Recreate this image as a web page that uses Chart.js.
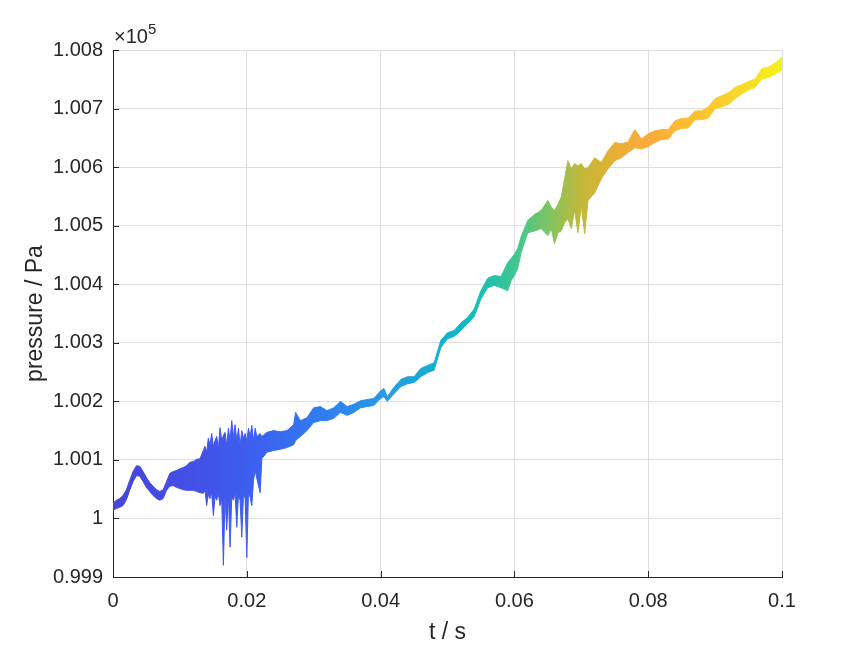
<!DOCTYPE html>
<html lang="en">
<head>
<meta charset="UTF-8">
<title>pressure / Pa vs t / s</title>
<style>
  html, body { margin: 0; padding: 0; background: #fff; }
  #wrap { width: 865px; height: 649px; }
</style>
</head>
<body>
<div id="wrap"><canvas id="myChart" width="865" height="649"></canvas></div>
<script src="https://cdn.jsdelivr.net/npm/chart.js"></script>
<script>
// time samples (s)
const times = [
  0, 0.0005, 0.001, 0.0015, 0.002, 0.0025, 0.003, 0.0035, 0.004, 0.0045,
  0.005, 0.0055, 0.006, 0.0065, 0.007, 0.0075, 0.008, 0.0085, 0.009, 0.0095,
  0.01, 0.0105, 0.011, 0.0115, 0.012, 0.0125, 0.013,
  0.0135, 0.01375, 0.014, 0.01425, 0.0145, 0.01475, 0.015, 0.01525, 0.0155, 0.01575,
  0.016, 0.01625, 0.0165, 0.01675, 0.017, 0.01725, 0.0175, 0.01775, 0.018, 0.01825,
  0.0185, 0.01875, 0.019, 0.01925, 0.0195, 0.01975, 0.02, 0.02025, 0.0205, 0.02075,
  0.021, 0.02125, 0.0215, 0.022, 0.02225, 0.023,
  0.024, 0.025, 0.026, 0.027, 0.0273, 0.028, 0.029,
  0.030, 0.031, 0.032, 0.033, 0.034, 0.035, 0.036, 0.037, 0.038, 0.039,
  0.040, 0.0405, 0.041, 0.042, 0.043, 0.044, 0.045, 0.046, 0.047, 0.048,
  0.049, 0.050, 0.051, 0.052, 0.053, 0.054, 0.055, 0.056, 0.057, 0.058,
  0.059, 0.0595, 0.060, 0.0605, 0.061, 0.062, 0.063, 0.064,
  0.065, 0.0655, 0.066, 0.0665, 0.067, 0.0675, 0.068, 0.0685, 0.069, 0.0695,
  0.070, 0.0705, 0.071, 0.072, 0.073, 0.074, 0.075, 0.076, 0.077, 0.078,
  0.079, 0.080, 0.081, 0.082, 0.083, 0.084, 0.085, 0.086, 0.087, 0.088,
  0.089, 0.090, 0.091, 0.092, 0.093, 0.094, 0.095, 0.096, 0.097, 0.098, 0.099, 0.100
];

// upper edge of the pressure band (Pa)
const upperPa = [
  100026, 100031, 100034, 100039, 100049, 100065, 100080, 100090, 100089, 100080,
  100070, 100061, 100055, 100049, 100046, 100049, 100063, 100077, 100080, 100082,
  100085, 100087, 100090, 100096, 100097, 100101, 100102,
  100116, 100123, 100113, 100137, 100125, 100145, 100123, 100133, 100140, 100119,
  100155, 100133, 100142, 100147, 100125, 100154, 100133, 100167, 100140, 100160,
  100133, 100154, 100125, 100150, 100137, 100145, 100133, 100154, 100140, 100159,
  100133, 100154, 100140, 100145, 100140, 100147,
  100150, 100148, 100150, 100160, 100181, 100167, 100172,
  100189, 100191, 100184, 100189, 100200, 100191, 100195, 100201, 100203, 100205,
  100218, 100222, 100208, 100224, 100237, 100242, 100242, 100256, 100261, 100266,
  100304, 100317, 100321, 100334, 100343, 100358, 100389, 100410, 100415, 100413,
  100437, 100444, 100451, 100461, 100481, 100509, 100519, 100526,
  100543, 100532, 100526, 100536, 100549, 100580, 100611, 100597, 100606, 100602,
  100606, 100597, 100599, 100616, 100608, 100628, 100642, 100640, 100643, 100664,
  100648, 100657, 100662, 100664, 100664, 100679, 100683, 100684, 100696, 100696,
  100703, 100717, 100722, 100727, 100736, 100741, 100746, 100751, 100768, 100771, 100778, 100788
];

// lower edge of the pressure band (Pa)
const lowerPa = [
  100014, 100017, 100019, 100022, 100032, 100048, 100063, 100073, 100072, 100063,
  100053, 100046, 100039, 100034, 100031, 100034, 100048, 100055, 100056, 100053,
  100051, 100049, 100048, 100048, 100048, 100046, 100044,
  100043, 100048, 100022, 100041, 100034, 100044, 100005, 100038, 100031, 100043,
  100022, 100034, 99920, 100038, 99980, 100039, 99951, 100036, 100031, 100044,
  99985, 100039, 100031, 99968, 100041, 100034, 99933, 100044, 100036, 100022,
  100065, 100082, 100068, 100044, 100102, 100113,
  100116, 100118, 100121, 100126, 100133, 100140, 100150,
  100164, 100167, 100167, 100171, 100181, 100176, 100181, 100189, 100191, 100193,
  100205, 100208, 100200, 100213, 100225, 100230, 100232, 100242, 100249, 100253,
  100292, 100307, 100311, 100321, 100333, 100345, 100375, 100394, 100398, 100394,
  100389, 100406, 100415, 100427, 100454, 100488, 100491, 100495,
  100483, 100495, 100469, 100488, 100491, 100505, 100512, 100495, 100526, 100488,
  100534, 100486, 100543, 100556, 100580, 100597, 100611, 100616, 100625, 100633,
  100631, 100635, 100642, 100647, 100648, 100662, 100666, 100667, 100681, 100681,
  100684, 100700, 100703, 100707, 100717, 100725, 100732, 100736, 100751, 100753, 100759, 100766
];

const xTicks = [0, 0.02, 0.04, 0.06, 0.08, 0.1];
const xTickLabels = ['0', '0.02', '0.04', '0.06', '0.08', '0.1'];
const yTicks = [99900, 100000, 100100, 100200, 100300, 100400, 100500, 100600, 100700, 100800];
const yTickLabels = ['0.999', '1', '1.001', '1.002', '1.003', '1.004', '1.005', '1.006', '1.007', '1.008'];

const FONT = '"Liberation Sans", Arial, Helvetica, sans-serif';
const INK = '#262626';

// parula-like colours along the time axis
const colorStops = [
  [0.00, '#4744dc'],
  [0.12, '#4350e6'],
  [0.22, '#3b62f0'],
  [0.32, '#2f80f2'],
  [0.40, '#2898e2'],
  [0.46, '#18aad6'],
  [0.52, '#0cb8c4'],
  [0.57, '#26c2a8'],
  [0.61, '#48c886'],
  [0.66, '#8cc25c'],
  [0.70, '#c2b83a'],
  [0.75, '#e6b034'],
  [0.80, '#fbab3a'],
  [0.90, '#fcca2e'],
  [1.00, '#f3f11a']
];

function bandGradient(context) {
  const chart = context.chart;
  const area = chart.chartArea;
  if (!area) return '#3f5be8';
  const g = chart.ctx.createLinearGradient(area.left, 0, area.right, 0);
  colorStops.forEach(([o, c]) => g.addColorStop(o, c));
  return g;
}

const upperPoints = times.map((t, i) => ({ x: t, y: upperPa[i] }));
const lowerPoints = times.map((t, i) => ({ x: t, y: lowerPa[i] }));

// inward tick marks and the x10^5 exponent label
const matlabAxes = {
  id: 'matlabAxes',
  afterDraw(chart) {
    const { ctx, chartArea: a, scales } = chart;
    ctx.save();
    ctx.strokeStyle = INK;
    ctx.lineWidth = 1;
    ctx.beginPath();
    scales.x.ticks.forEach(t => {
      const px = Math.round(scales.x.getPixelForValue(t.value)) + 0.5;
      ctx.moveTo(px, a.bottom);
      ctx.lineTo(px, a.bottom - 6);
    });
    scales.y.ticks.forEach(t => {
      const py = Math.round(scales.y.getPixelForValue(t.value)) + 0.5;
      ctx.moveTo(a.left, py);
      ctx.lineTo(a.left + 6, py);
    });
    ctx.stroke();

    ctx.fillStyle = INK;
    ctx.textAlign = 'left';
    ctx.textBaseline = 'alphabetic';
    ctx.font = '20px ' + FONT;
    ctx.fillText('\u00d710', a.left + 1, a.top - 7);
    const w = ctx.measureText('\u00d710').width;
    ctx.font = '15px ' + FONT;
    ctx.fillText('5', a.left + 1 + w, a.top - 16);
    ctx.restore();
  }
};

Chart.defaults.font.family = FONT;
Chart.defaults.color = INK;

new Chart(document.getElementById('myChart'), {
  type: 'line',
  data: {
    datasets: [
      {
        label: 'upper',
        data: upperPoints,
        borderColor: bandGradient,
        backgroundColor: bandGradient,
        borderWidth: 1,
        pointRadius: 0,
        tension: 0,
        fill: '+1'
      },
      {
        label: 'lower',
        data: lowerPoints,
        borderColor: bandGradient,
        backgroundColor: bandGradient,
        borderWidth: 1,
        pointRadius: 0,
        tension: 0,
        fill: false
      }
    ]
  },
  options: {
    responsive: false,
    animation: false,
    devicePixelRatio: 1,
    layout: { padding: { left: 0, right: 83, top: 50, bottom: 0 } },
    plugins: {
      legend: { display: false },
      tooltip: { enabled: false }
    },
    scales: {
      x: {
        type: 'linear',
        min: 0,
        max: 0.1,
        afterBuildTicks: s => { s.ticks = xTicks.map(v => ({ value: v })); },
        afterFit: s => { s.height = 72; },
        ticks: {
          font: { size: 20 },
          color: INK,
          padding: 12,
          maxRotation: 0,
          callback: (v, i) => xTickLabels[i]
        },
        grid: { color: '#dedede', drawTicks: false },
        border: { display: true, color: INK, width: 1 },
        title: {
          display: true,
          text: 't / s',
          font: { size: 23 },
          color: INK,
          padding: { top: 0, bottom: 3 }
        }
      },
      y: {
        min: 99900,
        max: 100800,
        afterBuildTicks: s => { s.ticks = yTicks.map(v => ({ value: v })); },
        afterFit: s => { s.width = 113; },
        ticks: {
          font: { size: 20 },
          color: INK,
          padding: 10,
          callback: (v, i) => yTickLabels[i]
        },
        grid: { color: '#dedede', drawTicks: false },
        border: { display: true, color: INK, width: 1 },
        title: {
          display: true,
          text: 'pressure / Pa',
          font: { size: 23 },
          color: INK,
          padding: { top: 22, bottom: 0 }
        }
      }
    }
  },
  plugins: [matlabAxes]
});
</script>
</body>
</html>
